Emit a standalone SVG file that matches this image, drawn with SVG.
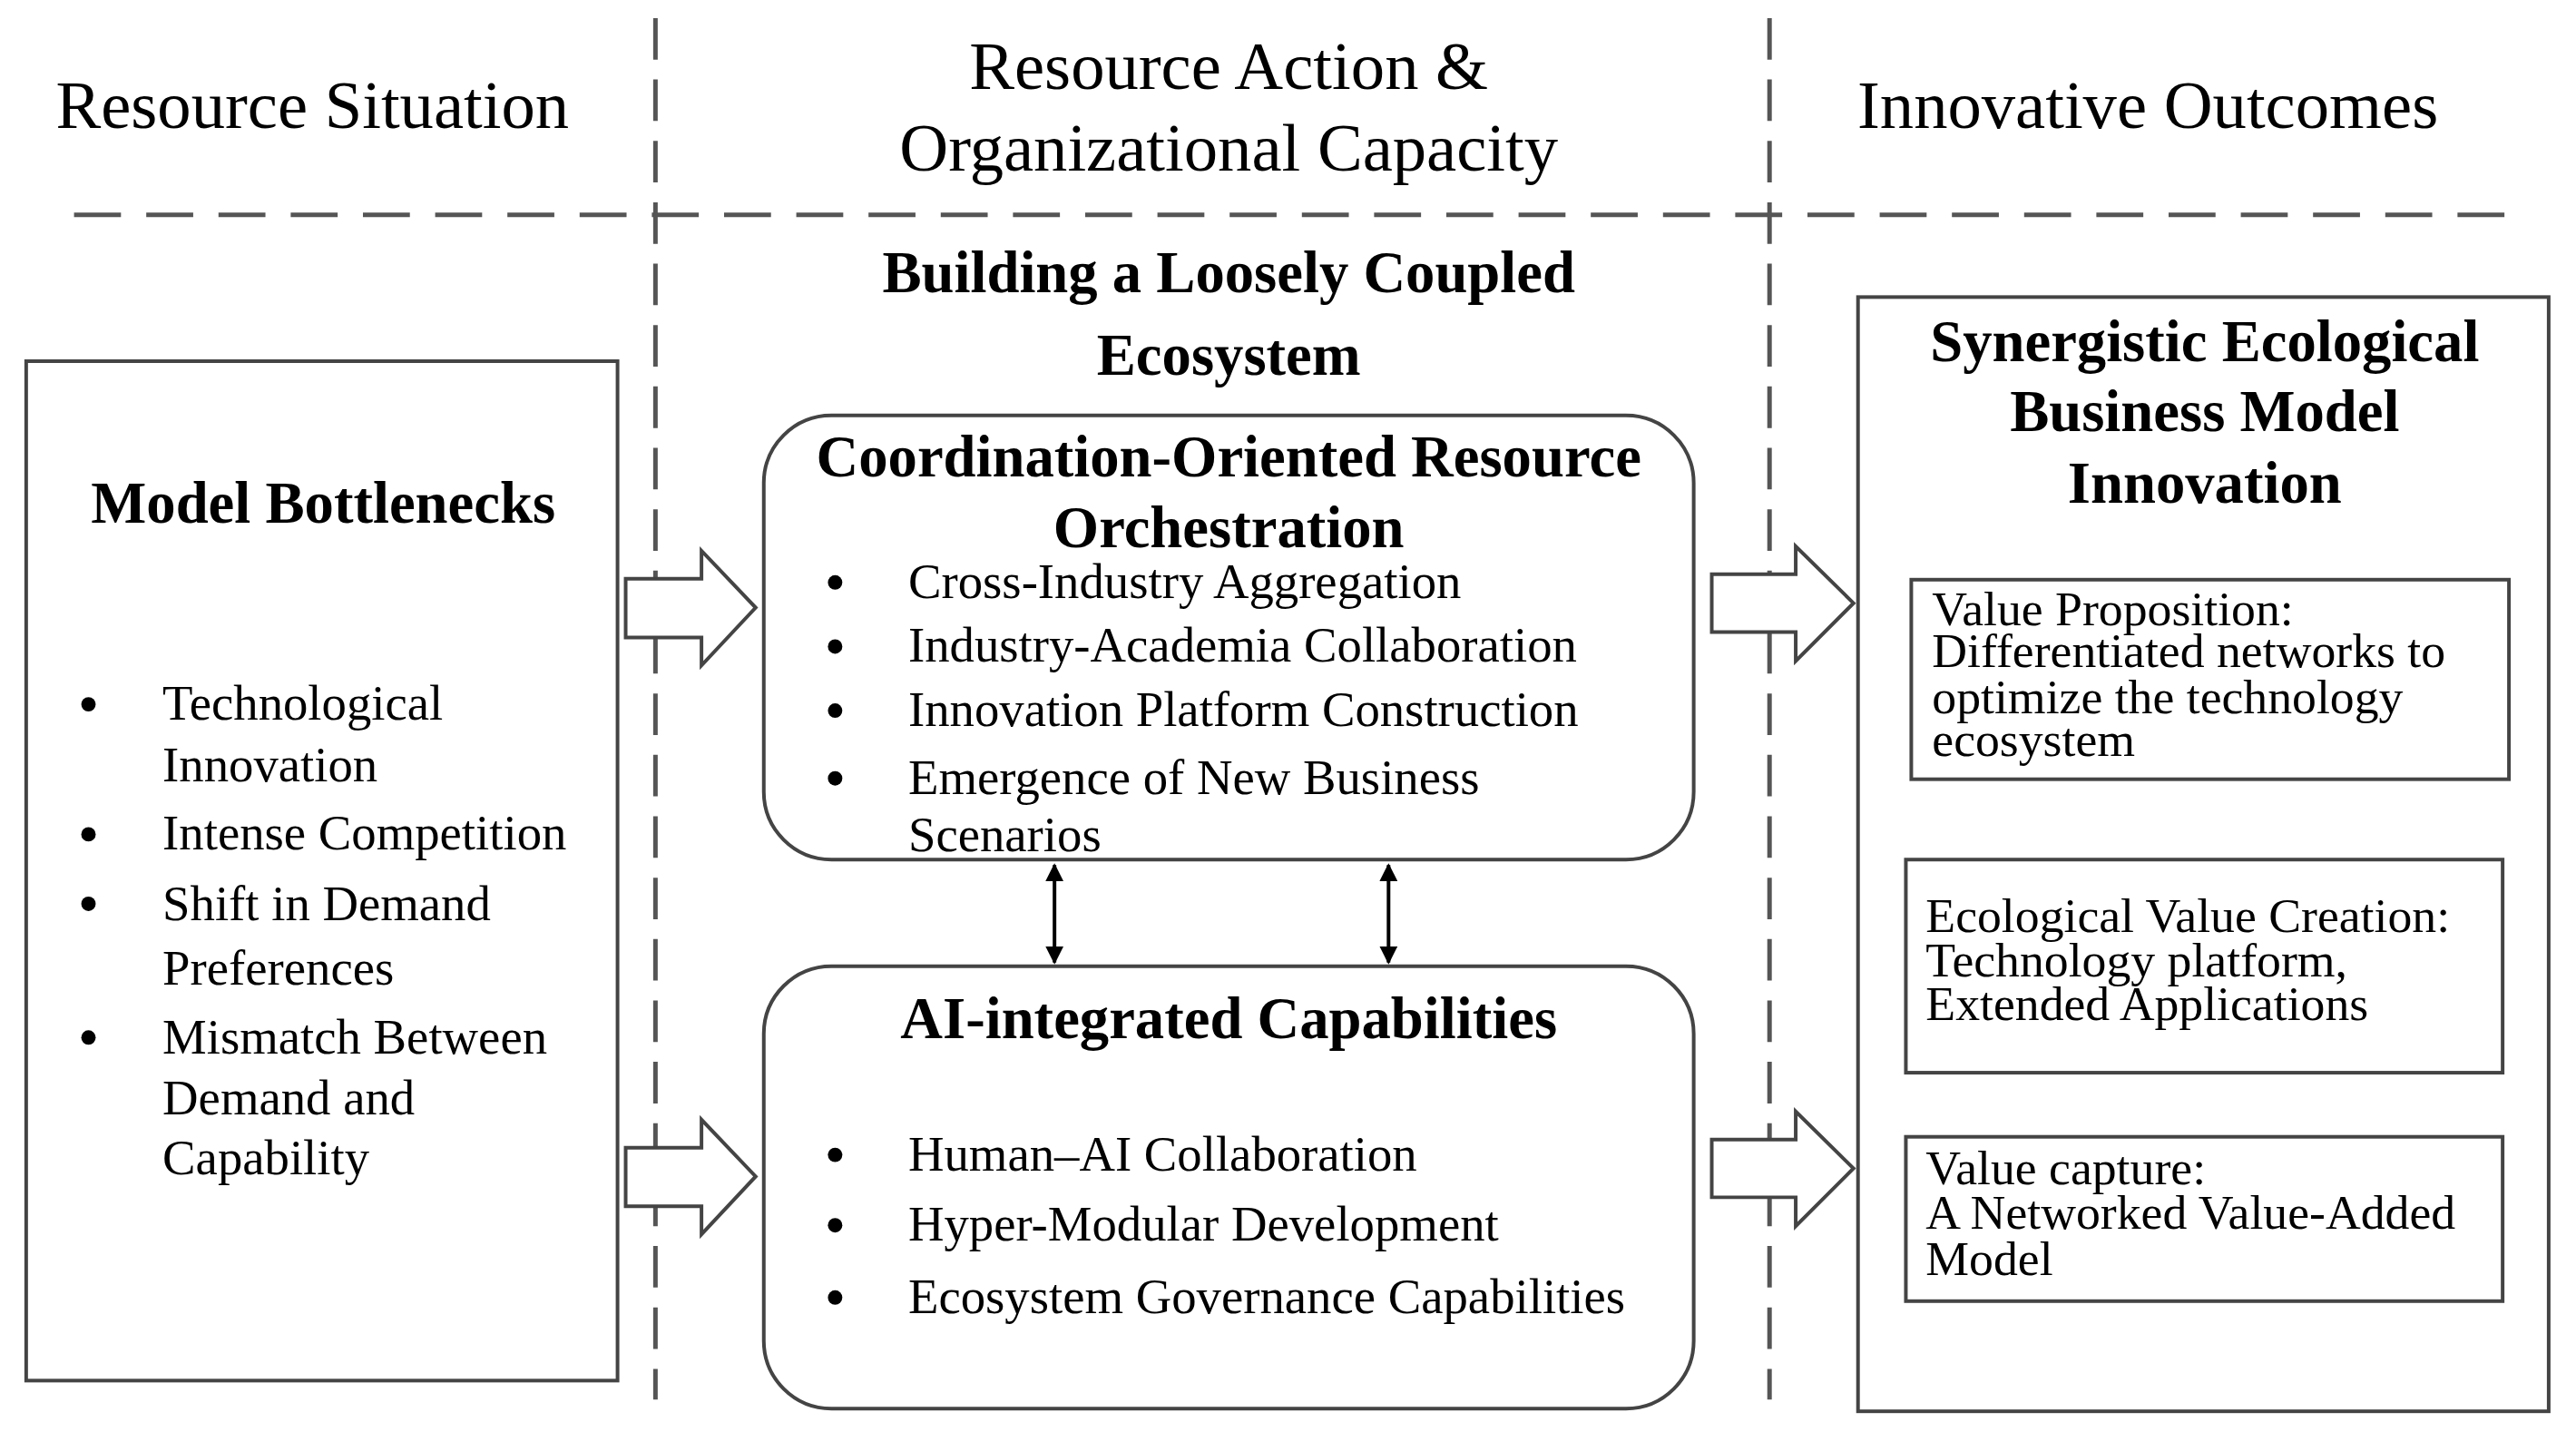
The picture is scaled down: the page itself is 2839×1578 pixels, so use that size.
<svg xmlns="http://www.w3.org/2000/svg" width="2839" height="1578" viewBox="0 0 2839 1578">
<style>
text{font-family:"Liberation Serif","Times New Roman",serif;fill:#000}
.h{font-size:75px}
.b{font-size:65px;font-weight:bold}
.t{font-size:55px}
.s{font-size:54px}
.box{fill:#fff;stroke:#444;stroke-width:4}
.dash{stroke:#555;stroke-width:5;fill:none}
.blk{fill:#fff;stroke:#444;stroke-width:4;stroke-linejoin:miter}
.con{stroke:#000;stroke-width:4;fill:none}
</style>
<defs>
<marker id="ah" viewBox="0 0 10 10" refX="9" refY="5" markerWidth="5" markerHeight="5" orient="auto-start-reverse"><path d="M0,0 L10,5 L0,10 z" fill="#000"/></marker>
</defs>
<rect width="2839" height="1578" fill="#fff"/>
<g transform="scale(0.995)">
<g id="guides">
<line class="dash" x1="82" y1="238" x2="2794" y2="238" stroke-dasharray="52,28"/>
<line class="dash" x1="726" y1="20" x2="726" y2="1550" stroke-dasharray="46,22"/>
<line class="dash" x1="1960" y1="20" x2="1960" y2="1550" stroke-dasharray="46,22"/>
</g>
<g id="headers">
<text class="h" x="346" y="142" text-anchor="middle">Resource Situation</text>
<text class="h" x="1361" y="98" text-anchor="middle">Resource Action &amp;</text>
<text class="h" x="1361" y="189" text-anchor="middle">Organizational Capacity</text>
<text class="h" x="2379" y="142" text-anchor="middle">Innovative Outcomes</text>
<text class="b" x="1361" y="324" text-anchor="middle">Building a Loosely Coupled</text>
<text class="b" x="1361" y="415" text-anchor="middle">Ecosystem</text>
</g>
<g id="bottlenecks">
<rect class="box" x="29" y="400" width="655" height="1129"/>
<text class="b" x="358" y="579" text-anchor="middle">Model Bottlenecks</text>
<g class="t">
<circle cx="98" cy="780" r="8"/><text x="180" y="797">Technological</text>
<text x="180" y="865">Innovation</text>
<circle cx="98" cy="924" r="8"/><text x="180" y="941">Intense Competition</text>
<circle cx="98" cy="1001" r="8"/><text x="180" y="1019">Shift in Demand</text>
<text x="180" y="1090">Preferences</text>
<circle cx="98" cy="1149" r="8"/><text x="180" y="1167">Mismatch Between</text>
<text x="180" y="1234">Demand and</text>
<text x="180" y="1301">Capability</text>
</g>
</g>
<g id="orchestration">
<rect class="box" x="846" y="460" width="1030" height="492" rx="75"/>
<text class="b" x="1361" y="528" text-anchor="middle">Coordination-Oriented Resource</text>
<text class="b" x="1361" y="606" text-anchor="middle">Orchestration</text>
<g class="t">
<circle cx="925" cy="645" r="8"/><text x="1006" y="662">Cross-Industry Aggregation</text>
<circle cx="925" cy="716" r="8"/><text x="1006" y="733">Industry-Academia Collaboration</text>
<circle cx="925" cy="787" r="8"/><text x="1006" y="804">Innovation Platform Construction</text>
<circle cx="925" cy="862" r="8"/><text x="1006" y="879">Emergence of New Business</text>
<text x="1006" y="943">Scenarios</text>
</g>
</g>
<g id="ai">
<rect class="box" x="846" y="1070" width="1030" height="490" rx="75"/>
<text class="b" x="1361" y="1150" text-anchor="middle">AI-integrated Capabilities</text>
<g class="t">
<circle cx="925" cy="1279" r="8"/><text x="1006" y="1296">Human–AI Collaboration</text>
<circle cx="925" cy="1357" r="8"/><text x="1006" y="1374">Hyper-Modular Development</text>
<circle cx="925" cy="1437" r="8"/><text x="1006" y="1454">Ecosystem Governance Capabilities</text>
</g>
</g>
<g id="outcomes">
<rect class="box" x="2058" y="329" width="765" height="1234"/>
<text class="b" x="2442" y="400" text-anchor="middle">Synergistic Ecological</text>
<text class="b" x="2442" y="477" text-anchor="middle">Business Model</text>
<text class="b" x="2442" y="557" text-anchor="middle">Innovation</text>
</g>
<g id="value-proposition">
<rect class="box" x="2117" y="642" width="662" height="221"/>
<g class="s"><text x="2140" y="692">Value Proposition:</text><text x="2140" y="739">Differentiated networks to</text><text x="2140" y="790">optimize the technology</text><text x="2140" y="837">ecosystem</text></g>
</g>
<g id="value-creation">
<rect class="box" x="2111" y="952" width="661" height="236"/>
<g class="s"><text x="2133" y="1032">Ecological Value Creation:</text><text x="2133" y="1081">Technology platform,</text><text x="2133" y="1130">Extended Applications</text></g>
</g>
<g id="value-capture">
<rect class="box" x="2111" y="1259" width="661" height="182"/>
<g class="s"><text x="2133" y="1312">Value capture:</text><text x="2133" y="1361">A Networked Value-Added</text><text x="2133" y="1412">Model</text></g>
</g>
<g id="connectors">
<polygon class="blk" points="693,641 777,641 777,610 837,673 777,737 777,706 693,706"/>
<polygon class="blk" points="693,1271 777,1271 777,1240 837,1303 777,1367 777,1336 693,1336"/>
<polygon class="blk" points="1896,636 1989,636 1989,605 2053,668 1989,732 1989,700 1896,700"/>
<polygon class="blk" points="1896,1262 1989,1262 1989,1231 2053,1294 1989,1358 1989,1326 1896,1326"/>
<line class="con" x1="1168" y1="958" x2="1168" y2="1066" marker-start="url(#ah)" marker-end="url(#ah)"/>
<line class="con" x1="1538" y1="958" x2="1538" y2="1066" marker-start="url(#ah)" marker-end="url(#ah)"/>
</g>
</g>
</svg>
